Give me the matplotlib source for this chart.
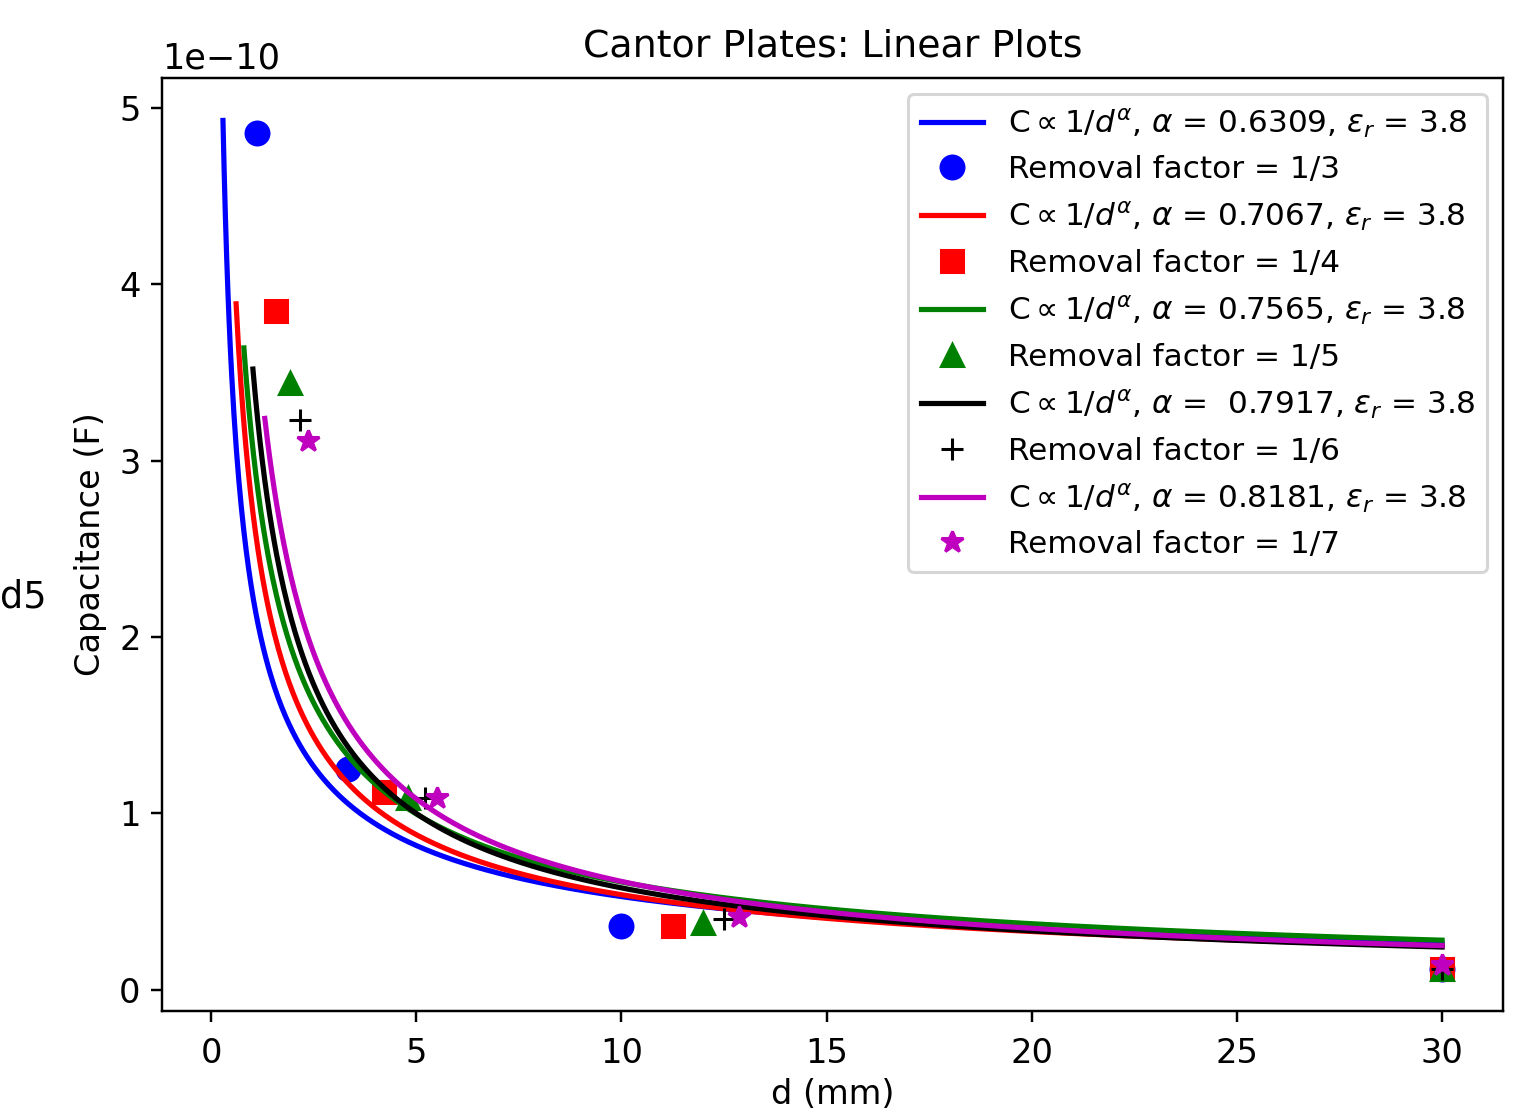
import numpy as np
import matplotlib.pyplot as plt

# datos medidos: separacion d (mm) y capacitancia (F)
d_rf3 = [1.11, 3.33, 10.0, 30.0]
c_rf3 = [4.86e-10, 1.25e-10, 0.36e-10, 0.12e-10]
d_rf4 = [1.58, 4.22, 11.25, 30.0]
c_rf4 = [3.85e-10, 1.12e-10, 0.36e-10, 0.12e-10]
d_rf5 = [1.92, 4.8, 12.0, 30.0]
c_rf5 = [3.44e-10, 1.09e-10, 0.38e-10, 0.12e-10]
d_rf6 = [2.17, 5.21, 12.5, 30.0]
c_rf6 = [3.23e-10, 1.09e-10, 0.40e-10, 0.12e-10]
d_rf7 = [2.36, 5.51, 12.86, 30.0]
c_rf7 = [3.11e-10, 1.09e-10, 0.41e-10, 0.14e-10]

# ajustes C ~ 1/d^alpha
alphas = ['0.6309', '0.7067', '0.7565', ' 0.7917', '0.8181']
alpha_plot = [0.6309, 0.7067, 0.7067, 0.7917, 0.8181]  # la verde se dibujo con 0.7067
d_ini = [0.29, 0.61, 0.80, 1.02, 1.31]
c_ini = [4.93e-10, 3.89e-10, 3.64e-10, 3.52e-10, 3.24e-10]
factores = ['1/3', '1/4', '1/5', '1/6', '1/7']

colores = ['b', 'r', 'g', 'k', 'm']
marcas = ['o', 's', '^', '+', '*']
puntos = [(d_rf3, c_rf3), (d_rf4, c_rf4), (d_rf5, c_rf5), (d_rf6, c_rf6), (d_rf7, c_rf7)]

plt.rcParams['xtick.labelsize'] = 11
plt.rcParams['ytick.labelsize'] = 11
plt.rcParams['axes.labelsize'] = 11

fig = plt.figure(figsize=(1527/220, 1115/220), dpi=220)
ax = fig.add_axes([0.1061, 0.0933, 0.8782, 0.8367])

for i in range(5):
    d = np.linspace(d_ini[i], 30, 1000)
    k = c_ini[i] * d_ini[i]**alpha_plot[i]
    ax.plot(d, k / d**alpha_plot[i], color=colores[i], linewidth=1.7,
            label=r'C$\propto1/d^{\alpha}$, $\alpha$ = ' + alphas[i] + r', $\varepsilon_r$ = 3.8')
    ax.plot(puntos[i][0], puntos[i][1], colores[i] + marcas[i], markersize=7.5,
            linestyle='none', label='Removal factor = ' + factores[i])

ax.tick_params(axis='x', pad=5)
ax.yaxis.get_offset_text().set_fontsize(11.5)
ax.set_title('Cantor Plates: Linear Plots', fontsize=12.4, pad=7)
ax.set_xlabel('d (mm)', labelpad=2.5)
ax.set_ylabel('Capacitance (F)')
ax.legend(loc='upper right', fontsize=10.2)
fig.text(0.0, 0.465, 'd5', fontsize=12, va='center')

plt.savefig('out.png', dpi=220)
